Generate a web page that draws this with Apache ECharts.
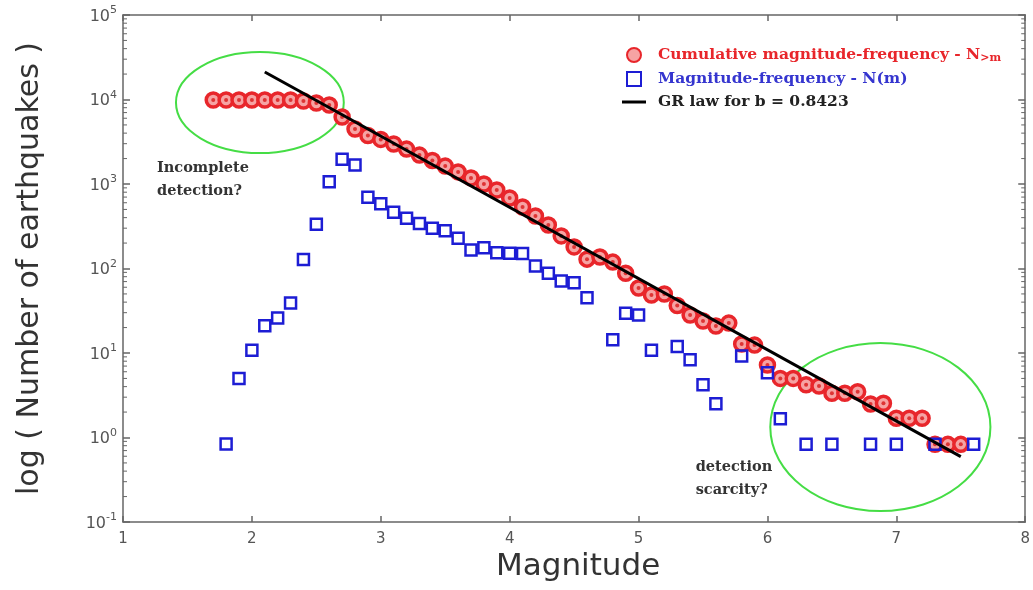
<!DOCTYPE html>
<html><head><meta charset="utf-8">
<script src="https://cdn.jsdelivr.net/npm/echarts@6/dist/echarts.min.js"></script>
<style>html,body{margin:0;padding:0;background:#fff}#c{width:1033px;height:590px}</style>
</head><body><div id="c"></div>
<script>
// ---- data ----
const cumMag = [1.7,1.8,1.9,2.0,2.1,2.2,2.3,2.4,2.5,2.6,2.7,2.8,2.9,3.0,3.1,3.2,3.3,3.4,3.5,3.6,3.7,3.8,3.9,4.0,4.1,4.2,4.3,4.4,4.5,4.6,4.7,4.8,4.9,5.0,5.1,5.2,5.3,5.4,5.5,5.6,5.7,5.8,5.9,6.0,6.1,6.2,6.3,6.4,6.5,6.6,6.7,6.8,6.9,7.0,7.1,7.2,7.3,7.4,7.5];
const cumVal = [9860,9860,9860,9860,9860,9860,9860,9600,9090,8610,6210,4480,3750,3370,2970,2590,2200,1900,1630,1390,1180,1000,849,683,534,418,327,243,180,129,137,119,88,58.8,48.5,49.9,36.5,28.2,23.9,20.9,22.6,12.8,12.4,7.2,5.0,5.0,4.2,4.07,3.34,3.34,3.48,2.49,2.54,1.69,1.69,1.69,0.83,0.83,0.83];
const freqMag = [1.8,1.9,2.0,2.1,2.2,2.3,2.4,2.5,2.6,2.7,2.8,2.9,3.0,3.1,3.2,3.3,3.4,3.5,3.6,3.7,3.8,3.9,4.0,4.1,4.2,4.3,4.4,4.5,4.6,4.8,4.9,5.0,5.1,5.3,5.4,5.5,5.6,5.8,6.0,6.1,6.3,6.5,6.8,7.0,7.3,7.6];
const freqVal = [0.84,5.0,10.8,21,26,39,128,333,1065,1960,1680,695,585,462,393,340,300,280,228,166,176,154,152,151,107,88,71,68,45,14.3,29.5,28.2,10.8,11.9,8.3,4.2,2.5,9.2,5.85,1.67,0.83,0.83,0.83,0.83,0.83,0.83];
const grMag = [2.1, 7.5];
const grVal = [21150, 0.593];
const seriesNames = ['Cumulative magnitude-frequency - N>m', 'Magnitude-frequency - N(m)', 'GR law for b = 0.8423'];
const yDecades = [0.1,1,10,100,1000,10000,100000];
const minorMult = [2,3,4,5,6,7,8,9];
// annotation ellipses: centre magnitude, centre count, half-width (magnitude), half-height (decades)
const ellipseCx = [2.062, 6.876];
const ellipseCy = [9200, 1.33];
const ellipseRx = [0.651, 0.854];
const ellipseRy = [0.598, 0.994];
// annotation texts: top-left anchor
const noteText = ['Incomplete\ndetection?', 'detection\nscarcity?'];
const noteX = [1.264, 5.443];
const noteY = [2115, 0.612];

const RED = '#e8262b', BLUE = '#1d1dd4', GREEN = '#45dd45', AX = '#666';
const chart = echarts.init(document.getElementById('c'), null, {renderer: 'canvas'});

const cumData = cumMag.map((m, i) => [m, cumVal[i]]);
const freqData = freqMag.map((m, i) => [m, freqVal[i]]);
const grData = grMag.map((m, i) => [m, grVal[i]]);
const minorData = [];
yDecades.slice(0, -1).forEach(d => minorMult.forEach(k => minorData.push([1, d * k])));

function supLabel(v) {
  const e = Math.round(Math.log10(v));
  return '{b|10}{s|' + e + '}';
}
const LF = {fontFamily: 'DejaVu Serif', fontWeight: 'bold', fontSize: 15.5, lineHeight: 18, padding: [0, 0, 0, 7]};

const option = {
  animation: false,
  backgroundColor: '#fff',
  grid: {left: 123, right: 4, top: 15, bottom: 68},
  legend: {
    orient: 'vertical', left: 617, top: 42, itemGap: 7,
    itemWidth: 24, itemHeight: 14,
    data: [
      {name: seriesNames[0], textStyle: {color: RED}},
      {name: seriesNames[1], icon: 'path://M0,0L10,0L10,10L0,10Z', textStyle: {color: '#3535cf'}},
      {name: seriesNames[2], icon: 'path://M0,0L24,0L24,3L0,3Z', textStyle: {color: '#222'}}
    ],
    formatter: function (n) {
      if (n === seriesNames[0]) return '{r|Cumulative magnitude-frequency - N}{rs|>m}';
      if (n === seriesNames[1]) return '{bl|' + n + '}';
      return '{k|' + n + '}';
    },
    textStyle: {
      fontFamily: 'DejaVu Serif', fontWeight: 'bold', fontSize: 15.5,
      rich: {
        r: Object.assign({color: RED}, LF),
        rs: {color: RED, fontFamily: 'DejaVu Serif', fontWeight: 'bold', fontSize: 11, verticalAlign: 'bottom'},
        bl: Object.assign({color: '#3535cf'}, LF),
        k: Object.assign({color: '#222'}, LF)
      }
    }
  },
  xAxis: [{
    type: 'value', min: 1, max: 8, interval: 1,
    name: 'Magnitude', nameLocation: 'middle', nameGap: 28,
    nameTextStyle: {fontFamily: 'DejaVu Sans', fontSize: 31, color: '#333', padding: [0, 0, 0, 8]},
    axisLine: {show: true, lineStyle: {color: AX, width: 1.5}},
    axisTick: {show: true, inside: true, length: 6, lineStyle: {color: AX, width: 1.5}},
    axisLabel: {fontFamily: 'DejaVu Sans', fontSize: 15, color: '#555', margin: 10},
    splitLine: {show: false}
  }, {
    type: 'value', min: 1, max: 8, interval: 1, position: 'top',
    axisLine: {show: true, lineStyle: {color: AX, width: 1.5}},
    axisTick: {show: true, inside: true, length: 6, lineStyle: {color: AX, width: 1.5}},
    axisLabel: {show: false}, splitLine: {show: false}
  }],
  yAxis: [{
    type: 'log', logBase: 10, min: 0.1, max: 100000,
    name: 'log ( Number of earthquakes )', nameLocation: 'middle', nameGap: 78,
    nameTextStyle: {fontFamily: 'DejaVu Sans', fontSize: 30, color: '#333'},
    axisLine: {show: true, lineStyle: {color: AX, width: 1.5}},
    axisTick: {show: true, inside: true, length: 7, lineStyle: {color: AX, width: 1.5}},
    axisLabel: {
      margin: 6, formatter: supLabel,
      rich: {
        b: {fontFamily: 'DejaVu Sans', fontSize: 16, color: '#555', lineHeight: 20, padding: [3, 0, 0, 0]},
        s: {fontFamily: 'DejaVu Sans', fontSize: 11, color: '#555', verticalAlign: 'top'}
      }
    },
    splitLine: {show: false}
  }, {
    type: 'log', logBase: 10, min: 0.1, max: 100000, position: 'right',
    axisLine: {show: true, lineStyle: {color: AX, width: 1.5}},
    axisTick: {show: true, inside: true, length: 7, lineStyle: {color: AX, width: 1.5}},
    axisLabel: {show: false}, splitLine: {show: false}
  }],
  series: [
    {
      type: 'custom', name: 'minorTicks', silent: true, z: 1, clip: false,
      data: minorData,
      renderItem: function (params, api) {
        const v = api.value(1);
        const pL = api.coord([1, v]);
        const pR = api.coord([8, v]);
        return {type: 'group', children: [
          {type: 'line', shape: {x1: pL[0], y1: pL[1], x2: pL[0] + 4, y2: pL[1]}, style: {stroke: AX, lineWidth: 1}},
          {type: 'line', shape: {x1: pR[0] - 4, y1: pR[1], x2: pR[0], y2: pR[1]}, style: {stroke: AX, lineWidth: 1}}
        ]};
      }
    },
    {
      type: 'custom', name: 'ellipses', silent: true, z: 1, clip: false,
      data: ellipseCx.map((x, i) => [x, ellipseCy[i]]),
      renderItem: function (params, api) {
        const i = params.dataIndex;
        const c = api.coord([ellipseCx[i], ellipseCy[i]]);
        const px = api.coord([ellipseCx[i] + ellipseRx[i], ellipseCy[i]]);
        const py = api.coord([ellipseCx[i], ellipseCy[i] * Math.pow(10, ellipseRy[i])]);
        return {type: 'ellipse', shape: {cx: c[0], cy: c[1], rx: Math.abs(px[0] - c[0]), ry: Math.abs(c[1] - py[1])},
          style: {fill: 'none', stroke: GREEN, lineWidth: 2}};
      }
    },
    {
      type: 'custom', name: 'notes', silent: true, z: 1, clip: false,
      data: noteX.map((x, i) => [x, noteY[i]]),
      renderItem: function (params, api) {
        const i = params.dataIndex;
        const p = api.coord([noteX[i], noteY[i]]);
        return {type: 'text', x: p[0], y: p[1],
          style: {text: noteText[i], fill: '#333', font: 'bold 14.5px "DejaVu Serif"', lineHeight: 23, align: 'left', verticalAlign: 'top'}};
      }
    },
    {
      type: 'scatter', name: seriesNames[0], data: cumData, z: 3,
      symbol: 'circle', symbolSize: 14,
      itemStyle: {color: '#f6a3a3', borderColor: RED, borderWidth: 3.5, opacity: 1}
    },
    {
      type: 'scatter', name: 'cumDots', data: cumData, z: 4, silent: true,
      symbol: 'circle', symbolSize: 4,
      itemStyle: {color: '#d81818'}
    },
    {
      type: 'scatter', name: seriesNames[1], data: freqData, z: 5,
      symbol: 'rect', symbolSize: 11,
      itemStyle: {color: 'rgba(255,255,255,0)', borderColor: BLUE, borderWidth: 2.5, opacity: 1}
    },
    {
      type: 'line', name: seriesNames[2], data: grData, z: 6,
      symbol: 'none', showSymbol: false,
      lineStyle: {color: '#000', width: 3}, itemStyle: {color: '#000'}
    }
  ]
};
chart.setOption(option);
</script>
</body></html>
